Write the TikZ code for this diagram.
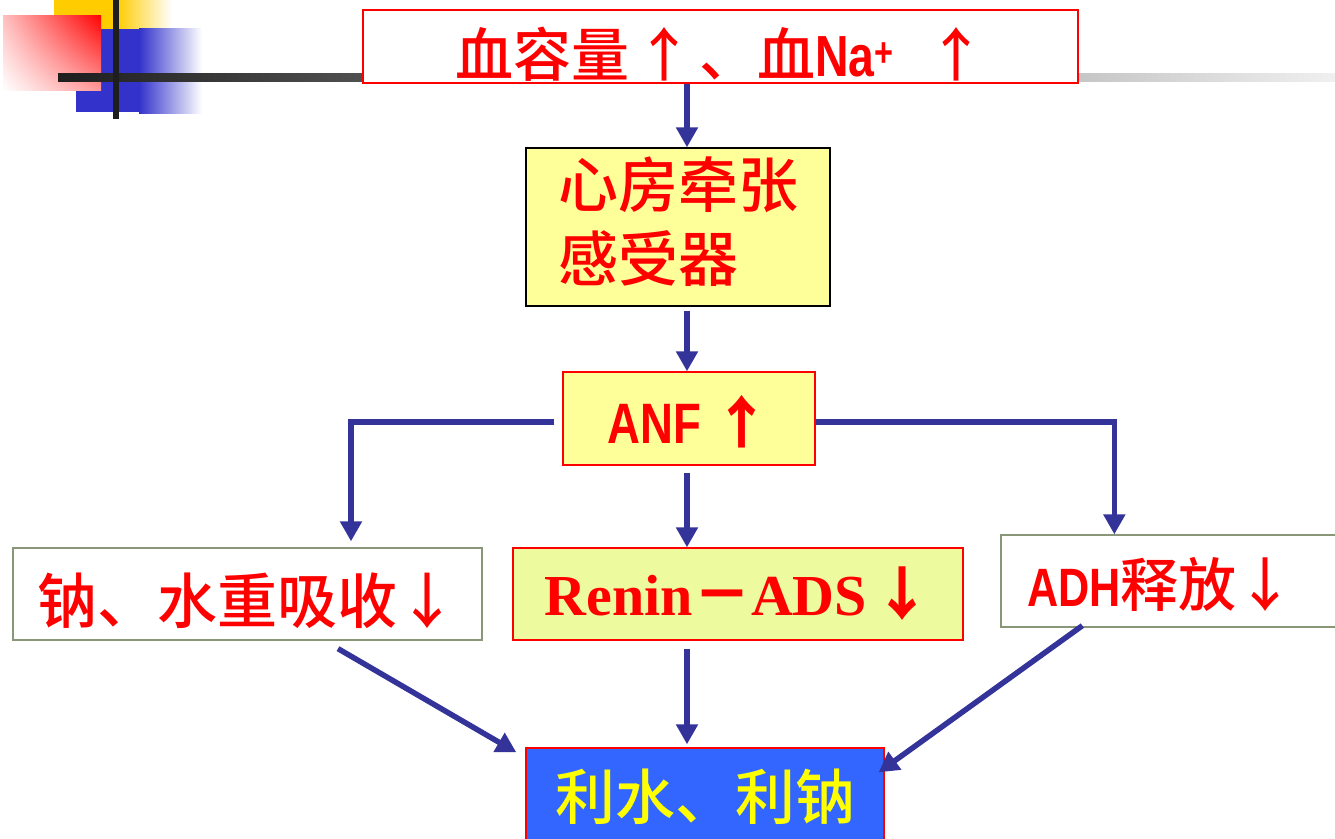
\documentclass[tikz,border=0pt]{standalone}
\usepackage{fontspec}
\usetikzlibrary{arrows.meta,calc,shadings}

\newfontfamily\cjk{Noto Sans CJK SC Medium}
\newfontfamily\narrow[FakeStretch=0.8]{Liberation Sans}
\newfontfamily\serifb{Liberation Serif}

\definecolor{arrowblue}{HTML}{333399}
\definecolor{boxred}{HTML}{FF0000}
\definecolor{paleyellow}{HTML}{FFFF99}
\definecolor{palelime}{HTML}{EEFA9E}
\definecolor{olivegray}{HTML}{8A9678}
\definecolor{deepblue}{HTML}{3366FF}
\definecolor{textyellow}{HTML}{FFFF00}
\definecolor{goldbar}{HTML}{FFCC00}
\definecolor{squareblue}{HTML}{3333CC}
\definecolor{barblack}{HTML}{1E1E1E}

\tikzset{
  box/.style={draw, line width=1.3pt, inner sep=0pt, text=boxred, text depth=0pt},
  arr/.style={draw=arrowblue, line width=5.5pt, -{Triangle[length=20pt,width=21pt]}},
}

\begin{document}
\begin{tikzpicture}[x=1pt, y=-1pt]
\useasboundingbox (0,0) rectangle (1335,838);

% corner ornament
\fill[goldbar] (54,0) rectangle (117,29);
\shade[left color=goldbar, right color=white] (117,0) rectangle (172,29);
\fill[squareblue] (76,29) rectangle (139,112);
\shade[left color=squareblue, right color=white] (139,28) rectangle (202,113);
\shade[upper left=red!25, upper right=red, lower left=white, lower right=red!40] (3,15) rectangle (101,90);
\shade[left color=barblack, right color=black!6] (58,73) rectangle (1335,81);
\fill[barblack] (113,0) rectangle (119,119);

% boxes
\node[box, draw=boxred, fill=white, minimum width=715, minimum height=73, text height=59pt] (top) at (720.5,46.5)
  {\fontsize{58}{70}\selectfont\cjk 血容量\kern6pt↑\kern6pt、血{\narrow\bfseries Na\textsuperscript{+}}\hspace{34pt}↑};

\node[box, draw=black, fill=paleyellow, minimum width=304, minimum height=158, align=left, text depth=16pt,
      font=\fontsize{60}{74}\selectfont\cjk] (heart) at (678,227)
  {心房牵张\\感受器};

\node[box, draw=boxred, fill=paleyellow, minimum width=252, minimum height=93, text height=49pt] (anf) at (689,418.5)
  {\fontsize{57}{68}\selectfont\narrow\bfseries ANF {\cjk ↑}};

\node[box, draw=olivegray, fill=white, minimum width=469, minimum height=92, text height=58pt] (na) at (247.5,594)
  {\fontsize{60}{72}\selectfont\cjk 钠、水重吸收↓};

\node[box, draw=boxred, fill=palelime, minimum width=450, minimum height=92, text height=42pt] (renin) at (738,594)
  {\fontsize{58}{70}\selectfont\serifb\bfseries Renin{\cjk －}ADS\kern6pt{\cjk ↓}};

\node[box, draw=olivegray, fill=white, minimum width=344, minimum height=92, text height=50pt] (adh) at (1173,581)
  {\fontsize{58}{70}\selectfont{\fontsize{54}{64}\selectfont\narrow\bfseries ADH}{\cjk 释放↓}\hspace*{24pt}};

\node[box, draw=boxred, fill=deepblue, text=textyellow, minimum width=358, minimum height=98, text height=44pt] (bot) at (705,797)
  {\fontsize{60}{72}\selectfont\cjk 利水、利钠};

% connectors
\coordinate (col) at (687,0);
\draw[arr] (top.south -| col) -- (heart.north -| col);
\draw[arr, shorten <=4pt] (heart.south -| col) -- (anf.north -| col);
\draw[arr, shorten <=7pt] (anf.south -| col) -- (renin.north -| col);
\draw[arr] ($(anf.west)+(-8,3.5)$) -| ($(na.north)+(103.5,-6)$);
\draw[arr] ($(anf.east)+(0,3.5)$) -| ($(adh.north west)+(114,0)$);
\draw[arr] ($(na.south)+(90.5,8)$) -- ($(bot.north west)+(-9,5)$);
\draw[arr] ($(renin.south -| col)+(0,8)$) -- ($(bot.north -| col)+(0,-3)$);
\draw[arr] ($(adh.south west)+(82,-2)$) -- ($(bot.north east)+(-6,25)$);
\end{tikzpicture}
\end{document}
